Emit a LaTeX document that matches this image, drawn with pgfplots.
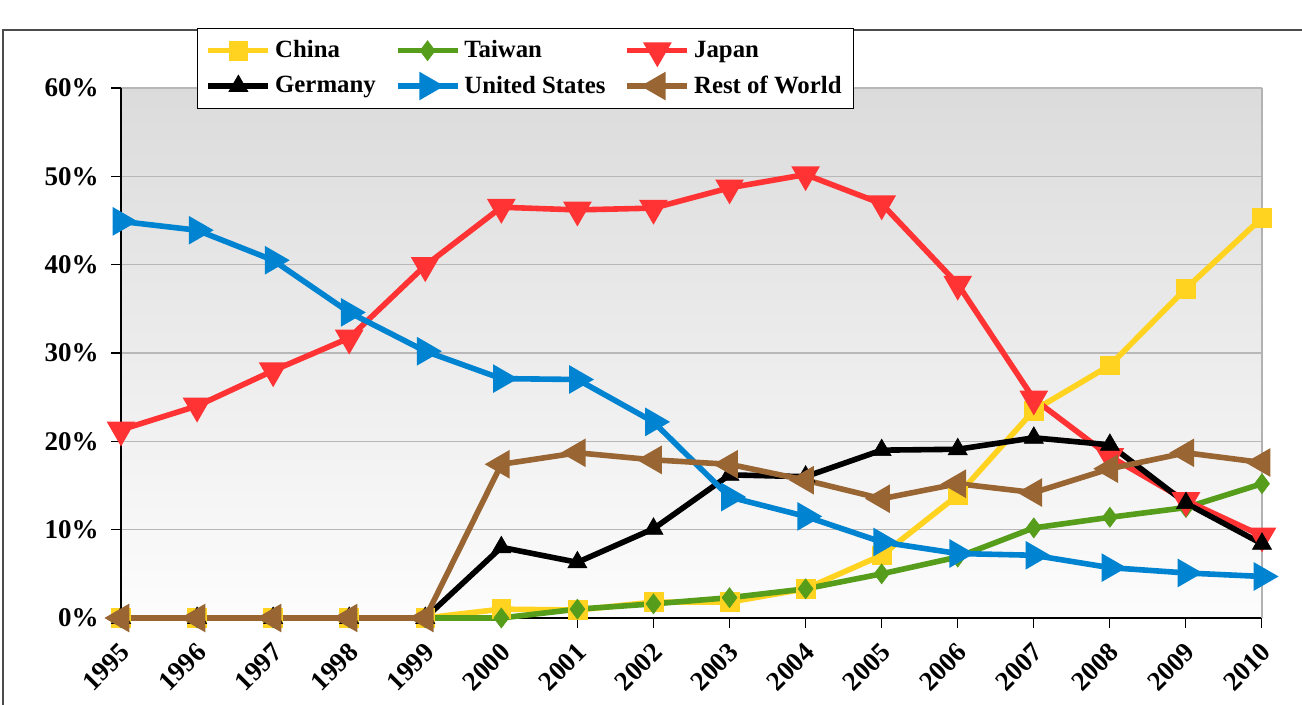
\documentclass[border=0pt]{standalone}
\usepackage{fontspec}
\setmainfont{Liberation Serif}
\usepackage{pgfplots}
\usepackage{pgfplotstable}
\pgfplotsset{compat=1.18}

\definecolor{cChina}{HTML}{FFD320}
\definecolor{cTaiwan}{HTML}{579D1C}
\definecolor{cJapan}{HTML}{FF3333}
\definecolor{cUS}{HTML}{0084D1}
\definecolor{cRow}{HTML}{996633}

% producer share, % of world total
\pgfplotstableread{
year china taiwan japan germany us row
1995 0 0 21.3 0 44.9 0
1996 0 0 24.0 0 43.9 0
1997 0 0 28.0 0 40.5 0
1998 0 0 31.7 0 34.6 0
1999 0 0 39.9 0 30.2 0
2000 1.0 0 46.5 8.0 27.1 17.4
2001 0.9 1.0 46.2 6.3 27.0 18.7
2002 1.8 1.6 46.4 10.1 22.2 17.9
2003 1.8 2.3 48.7 16.2 13.7 17.4
2004 3.3 3.3 50.2 16.0 11.5 15.6
2005 7.1 5.0 46.9 19.0 8.6 13.5
2006 13.9 6.9 37.8 19.1 7.3 15.2
2007 23.5 10.2 24.8 20.4 7.1 14.2
2008 28.6 11.4 18.3 19.6 5.7 16.9
2009 37.3 12.5 13.3 13.0 5.1 18.7
2010 45.3 15.2 9.3 8.4 4.7 17.6
}\shares

\newcommand{\tickfont}{\fontsize{13.5}{15}\selectfont\bfseries}
\newcommand{\legfont}{\fontsize{12.4}{15}\selectfont\bfseries}

\begin{document}
\begin{tikzpicture}
\useasboundingbox (-60.5pt,-43.5pt) rectangle (590.5pt,309pt);
\draw[black!70, line width=0.6pt] (-59pt,-60pt) -- (-59pt,294pt) -- (620pt,294pt);
\begin{axis}[at={(0,0)}, anchor=south west, scale only axis,
  width=570.5pt, height=265pt,
  xmin=1995, xmax=2010, ymin=0, ymax=60,
  axis lines=left, axis line style={-, black, line width=0.6pt},
  xtick={1995,...,2010}, ytick={0,10,...,60},
  xticklabels={1995,1996,1997,1998,1999,2000,2001,2002,2003,2004,2005,2006,2007,2008,2009,2010},
  yticklabel={\pgfmathprintnumber{\tick}\%},
  /pgf/number format/assume math mode=true,
  tick align=outside, major tick length=5pt,
  tick style={black, line width=0.6pt},
  ymajorgrids, grid style={black!28, line width=0.7pt},
  ticklabel style={font=\tickfont},
  xticklabel style={xshift=3pt, yshift=-9pt, rotate=45, anchor=east, inner sep=1pt},
  yticklabel style={xshift=-4pt, inner sep=2pt},
  axis background/.style={top color=black!14, bottom color=black!1},
  clip=false,
  legend columns=3, legend cell align=left,
  legend image code/.code={\draw[mark repeat=2,mark phase=2] plot coordinates {(0pt,0pt)(15pt,0pt)(30pt,0pt)};},
  legend style={at={(0.0666,1.1132)}, anchor=north west, draw=black, line width=0.6pt,
    fill=white, font=\legfont, inner xsep=4pt, inner ysep=4pt, row sep=3.5pt,
    /tikz/every even column/.append style={column sep=7.5pt}},
  every axis plot/.append style={line width=2.8pt, mark options={solid, line width=0.3pt}},
]
\draw[black!30, line width=0.7pt] (rel axis cs:1,0) -- (rel axis cs:1,1);
\addplot[cChina, mark=square*, mark size=4.7pt] table[y=china]{\shares};
\addlegendentry{China}
\addplot[cTaiwan, mark=diamond*, mark size=5pt] table[y=taiwan]{\shares};
\addlegendentry{Taiwan}
\addplot[cJapan, mark=triangle*, mark size=5.5pt, mark options={rotate=180}] table[y=japan]{\shares};
\addlegendentry{Japan}
\addplot[black, mark=triangle*, mark size=5.5pt] table[y=germany]{\shares};
\addlegendentry{Germany}
\addplot[cUS, mark=triangle*, mark size=5.5pt, mark options={rotate=-90}] table[y=us]{\shares};
\addlegendentry{United States}
\addplot[cRow, mark=triangle*, mark size=5.5pt, mark options={rotate=90}] table[y=row]{\shares};
\addlegendentry{Rest of World}
\end{axis}
\end{tikzpicture}
\end{document}
